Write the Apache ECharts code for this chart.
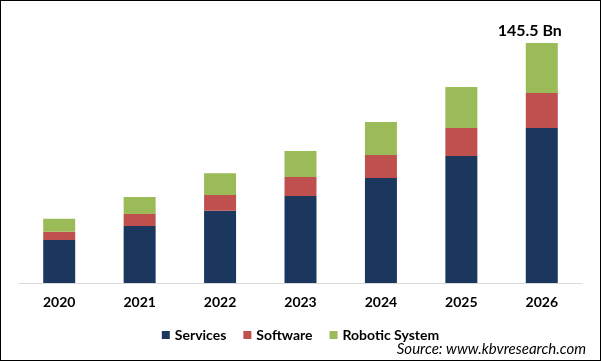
<!DOCTYPE html>
<html><head><meta charset="utf-8">
<script src="https://cdn.jsdelivr.net/npm/echarts@6/dist/echarts.min.js"></script>
<style>
html,body{margin:0;padding:0;background:#fff;}
#wrap{width:601px;height:361px;box-sizing:border-box;border:1px solid #000;position:relative;}
#chart{width:599px;height:359px;}
</style></head>
<body><div id="wrap"><div id="chart"></div></div>
<script>
const categories = ['2020','2021','2022','2023','2024','2025','2026'];
const services = [26.1, 34.6, 43.8, 52.7, 63.7, 77.0, 94.0];
const software = [4.9, 7.3, 9.5, 11.5, 13.9, 17.0, 21.2];
const robotic = [7.9, 10.3, 13.3, 15.8, 20.0, 24.9, 30.3];
const topLabel = '145.5 Bn';

const font = 'Lato';
const chart = echarts.init(document.getElementById('chart'));
chart.setOption({
  animation: false,
  grid: {left: 18, right: 18, top: 42, bottom: 77},
  legend: {
    data: ['Services','Software','Robotic System'],
    bottom: 13, left: 'center',
    icon: 'rect', itemWidth: 8, itemHeight: 8, itemGap: 17,
    textStyle: {fontFamily: font, fontWeight: 'bold', fontSize: 14, color: '#000'}
  },
  xAxis: {
    type: 'category', data: categories,
    axisLine: {lineStyle: {color: '#d9d9d9', width: 1}},
    axisTick: {show: false},
    axisLabel: {fontFamily: font, fontWeight: 'bold', fontSize: 14, color: '#000', margin: 12}
  },
  yAxis: {type: 'value', min: 0, max: 145.5, show: false, splitLine: {show: false}},
  series: [
    {name: 'Services', type: 'bar', stack: 's', data: services, barWidth: 32, itemStyle: {color: '#1c375e'}},
    {name: 'Software', type: 'bar', stack: 's', data: software, itemStyle: {color: '#c0504d'}},
    {name: 'Robotic System', type: 'bar', stack: 's', data: robotic, itemStyle: {color: '#9bbb59'},
      label: {show: true, position: 'top', offset: [-12, 1], distance: 5,
        fontFamily: font, fontWeight: 'bold', fontSize: 16, color: '#000',
        formatter: p => p.dataIndex === categories.length - 1 ? topLabel : ''}}
  ],
  graphic: [{
    type: 'text', right: 14, bottom: 3,
    style: {text: 'Source: www.kbvresearch.com', fontFamily: font, fontStyle: 'italic', fontSize: 15, fill: '#000'}
  }]
});
</script></body></html>
